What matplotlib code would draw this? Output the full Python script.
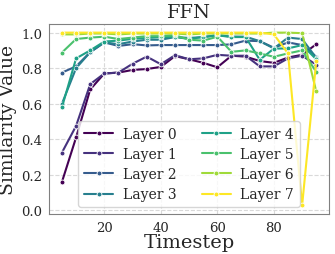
import numpy as np
import matplotlib.pyplot as plt
import seaborn as sns

# Data
timesteps = list(range(5, 100, 5))
layer_names = [f"Layer {i}" for i in range(8)]

layer0 = [0.16, 0.41, 0.68, 0.77, 0.775, 0.79, 0.795, 0.807, 0.868, 0.85, 0.83, 0.805, 0.87, 0.865, 0.84, 0.83, 0.86, 0.875, 0.935]
layer1 = [0.325, 0.475, 0.71, 0.77, 0.775, 0.825, 0.865, 0.822, 0.873, 0.85, 0.855, 0.875, 0.87, 0.87, 0.81, 0.81, 0.855, 0.87, 0.82]
layer2 = [0.775, 0.81, 0.89, 0.945, 0.925, 0.935, 0.928, 0.93, 0.93, 0.93, 0.93, 0.93, 0.934, 0.955, 0.952, 0.915, 0.945, 0.93, 0.864]
layer3 = [0.60, 0.80, 0.89, 0.945, 0.935, 0.95, 0.96, 0.96, 0.975, 0.97, 0.975, 0.985, 0.978, 0.977, 0.952, 0.911, 0.972, 0.964, 0.858]
layer4 = [0.58, 0.855, 0.90, 0.95, 0.955, 0.965, 0.97, 0.975, 0.975, 0.965, 0.975, 0.985, 0.975, 0.975, 0.847, 0.91, 0.911, 0.93, 0.85]
layer5 = [0.888, 0.964, 0.972, 0.977, 0.964, 0.972, 0.98, 0.98, 0.985, 0.96, 0.955, 0.977, 0.892, 0.90, 0.883, 0.864, 0.883, 0.90, 0.779]
layer6 = [0.99, 0.99, 0.995, 0.995, 0.99, 0.995, 0.995, 0.995, 0.995, 0.99, 0.995, 0.995, 0.995, 0.995, 0.995, 1.0, 1.0, 0.997, 0.669]
layer7 = [1.0, 1.0, 1.0, 1.0, 1.0, 1.0, 1.0, 1.0, 1.0, 1.0, 1.0, 1.0, 1.0, 1.0, 1.0, 0.99, 0.883, 0.028, 0.84]

layers = [layer0, layer1, layer2, layer3, layer4, layer5, layer6, layer7]

sns.set_style("whitegrid")
plt.rcParams['font.family'] = ['DejaVu Serif']

colors = plt.cm.viridis(np.linspace(0, 1, 8))

fig = plt.figure(figsize=(3.35, 2.55), dpi=100)
ax = fig.add_axes([0.147, 0.157, 0.835, 0.745])

for name, vals, c in zip(layer_names, layers, colors):
    ax.plot(timesteps, vals, '-o', color=c, label=name, linewidth=1.5,
            markersize=3.5, markeredgecolor='white', markeredgewidth=0.6)

ax.set_title("FFN", fontsize=14, pad=5)
ax.set_xlabel("Timestep", fontsize=14, labelpad=-1)
ax.set_ylabel("Similarity Value", fontsize=13.5, labelpad=3)
ax.set_xticks([20, 40, 60, 80])
ax.set_yticks([0.0, 0.2, 0.4, 0.6, 0.8, 1.0])
ax.tick_params(labelsize=9.5, pad=1.5)
for s in ax.spines.values():
    s.set_color('0.5')
ax.grid(True, linestyle='--', color='0.85', linewidth=0.8)

ax.legend(loc='lower center', ncol=2, fontsize=10, handlelength=2.1,
          columnspacing=1.8, labelspacing=0.45, borderpad=0.4,
          handletextpad=0.7, framealpha=0.8)

fig.savefig("out.png", dpi=100)
